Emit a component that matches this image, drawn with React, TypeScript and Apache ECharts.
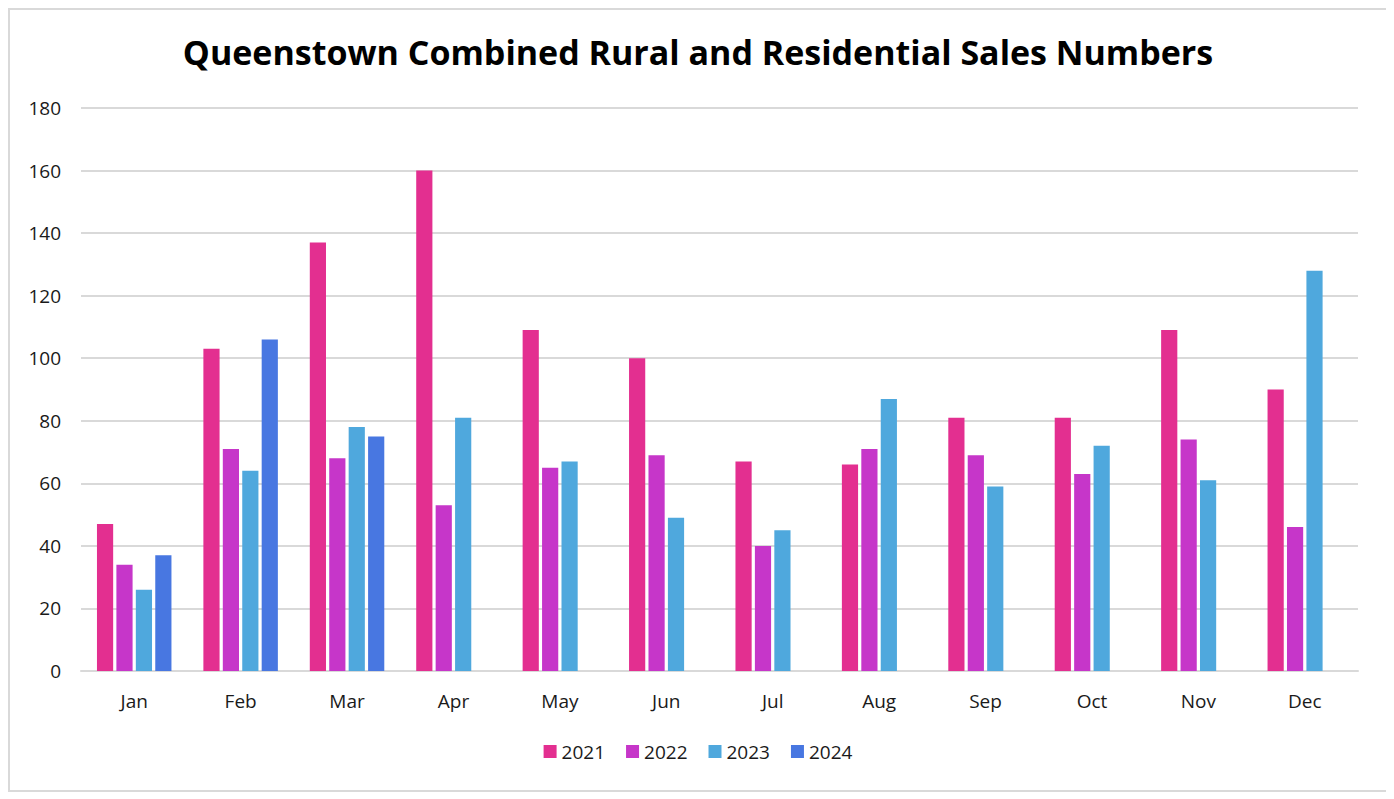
import React, { useEffect, useRef } from "react";
import * as echarts from "echarts";

const months = ["Jan", "Feb", "Mar", "Apr", "May", "Jun", "Jul", "Aug", "Sep", "Oct", "Nov", "Dec"];
const years = ["2021", "2022", "2023", "2024"];
const s2021 = [47, 103, 137, 160, 109, 100, 67, 66, 81, 81, 109, 90];
const s2022 = [34, 71, 68, 53, 65, 69, 40, 71, 69, 63, 74, 46];
const s2023 = [26, 64, 78, 81, 67, 49, 45, 87, 59, 72, 61, 128];
const s2024 = [37, 106, 75, null, null, null, null, null, null, null, null, null];
const colors = ["#E32F90", "#C636C9", "#4FA8DD", "#4877E1"];

const FONT = "'Open Sans', 'DejaVu Sans', sans-serif";

export default function App() {
  const ref = useRef<HTMLDivElement>(null);
  useEffect(() => {
    if (!ref.current) return;
    const chart = echarts.init(ref.current, undefined, { renderer: "svg" });
    const seriesData = [s2021, s2022, s2023, s2024];
    chart.setOption({
      animation: false,
      backgroundColor: "#ffffff",
      color: colors,
      title: {
        text: "Queenstown Combined Rural and Residential Sales Numbers",
        left: "center",
        top: 20,
        textStyle: { fontFamily: FONT, fontSize: 34, fontWeight: "bold", color: "#000000" },
      },
      legend: {
        data: years,
        top: 727,
        left: "center",
        itemWidth: 13,
        itemHeight: 13,
        itemGap: 21,
        icon: "rect",
        textStyle: { fontFamily: FONT, fontSize: 19, color: "#1a1a1a" },
      },
      grid: { left: 71, right: 28, top: 98, bottom: 119, containLabel: false },
      xAxis: {
        type: "category",
        data: months,
        axisLine: { lineStyle: { color: "#d9d9d9", width: 2 } },
        axisTick: { show: false },
        axisLabel: { fontFamily: FONT, fontSize: 19, color: "#1a1a1a", margin: 20 },
      },
      yAxis: {
        type: "value",
        min: 0,
        max: 180,
        interval: 20,
        axisLine: { show: false },
        axisTick: { show: false },
        splitLine: { lineStyle: { color: "#d9d9d9", width: 2 } },
        axisLabel: { fontFamily: FONT, fontSize: 19, color: "#1a1a1a", margin: 20 },
      },
      series: years.map((y, i) => ({
        name: y,
        type: "bar",
        data: seriesData[i],
        barGap: "20%",
        barCategoryGap: "30%",
        itemStyle: { color: colors[i] },
      })),
    });
    return () => chart.dispose();
  }, []);
  return (
    <div style={{ width: 1380, height: 784, border: "2px solid #d9d9d9", boxSizing: "border-box", background: "#fff" }}>
      <div ref={ref} style={{ width: 1376, height: 780 }} />
    </div>
  );
}
